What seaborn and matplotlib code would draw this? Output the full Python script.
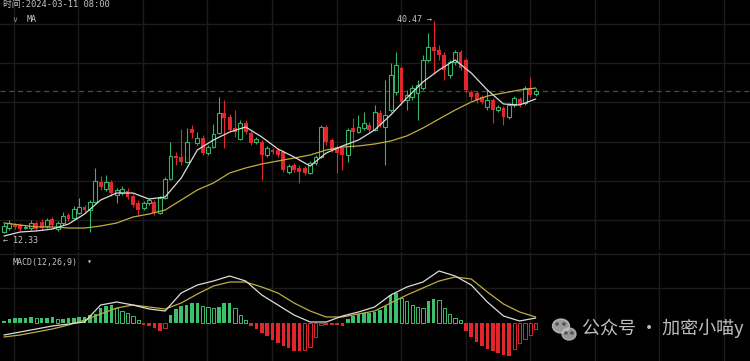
import numpy as np
import pandas as pd
import matplotlib
matplotlib.use('Agg')
import matplotlib.pyplot as plt
import seaborn as sns
from matplotlib.patches import Ellipse

# candles (price)
opens = [12.47, 13.00, 13.40, 13.40, 13.00, 13.00, 13.67, 13.80, 13.27, 14.20,
         12.87, 13.67, 14.73, 14.33, 15.00, 15.79, 15.39, 16.45, 19.11, 18.18,
         19.11, 17.38, 17.65, 17.91, 17.25, 16.32, 15.66, 16.32, 16.45, 15.00,
         16.99, 19.51, 22.56, 22.43, 21.76, 26.14, 24.28, 24.95, 22.96, 23.75,
         25.61, 28.26, 27.73, 26.27, 24.82, 26.94, 25.61, 24.42, 24.42, 22.69,
         23.36, 23.36, 23.09, 20.44, 21.36, 20.97, 20.97, 20.30, 21.63, 22.43,
         26.41, 24.68, 23.75, 23.62, 22.69, 26.27, 25.74, 26.27, 26.67, 26.01,
         28.26, 26.41, 28.66, 31.05, 34.24, 29.99, 30.39, 30.92, 31.58, 35.30,
         37.02, 36.63, 35.96, 33.31, 35.03, 36.36, 35.30, 31.05, 30.92, 30.39,
         29.06, 29.99, 28.66, 28.93, 27.73, 29.33, 30.12, 29.59, 31.58, 30.79]
closes = [13.27, 13.67, 13.14, 12.87, 13.14, 13.67, 12.87, 13.00, 14.07, 13.40,
          13.67, 14.60, 14.20, 15.53, 15.79, 15.39, 16.45, 19.24, 18.44, 19.11,
          17.65, 18.05, 18.18, 17.12, 16.06, 15.39, 16.32, 16.72, 15.00, 16.99,
          19.51, 22.56, 22.29, 21.76, 24.42, 25.61, 24.95, 22.96, 23.75, 25.48,
          28.26, 27.60, 26.01, 25.74, 26.94, 25.74, 24.28, 24.82, 22.69, 23.62,
          23.09, 22.69, 20.70, 21.23, 20.70, 20.44, 20.30, 21.63, 22.43, 26.41,
          24.42, 23.36, 22.96, 22.69, 26.01, 25.74, 26.41, 26.94, 26.01, 28.40,
          26.67, 28.00, 33.31, 34.63, 29.72, 30.65, 31.58, 31.98, 35.30, 37.02,
          36.49, 35.96, 33.97, 35.03, 36.36, 34.24, 31.32, 30.39, 29.99, 29.72,
          29.99, 28.66, 29.06, 27.73, 29.33, 30.26, 29.33, 31.58, 30.65, 31.25]
highs = [13.67, 14.07, 13.67, 13.67, 13.40, 14.07, 13.93, 14.20, 14.33, 14.46,
         13.93, 15.13, 15.00, 15.92, 16.99, 16.06, 16.72, 20.97, 19.90, 20.04,
         19.37, 18.31, 18.58, 18.31, 17.52, 16.72, 16.59, 16.99, 16.72, 17.25,
         19.77, 24.42, 23.09, 26.14, 26.27, 26.67, 25.74, 25.35, 24.02, 26.81,
         30.39, 29.99, 28.13, 28.66, 27.34, 27.34, 25.88, 25.08, 24.68, 23.89,
         23.62, 23.62, 23.36, 21.50, 21.63, 21.36, 21.23, 21.90, 22.69, 26.67,
         26.67, 24.95, 24.02, 23.89, 26.27, 27.60, 28.00, 28.40, 27.07, 29.33,
         28.66, 32.64, 34.90, 36.36, 34.50, 31.32, 31.98, 32.64, 35.96, 38.88,
         40.47, 37.29, 36.36, 35.30, 36.63, 36.63, 35.56, 31.32, 31.18, 30.65,
         31.32, 30.26, 29.33, 29.19, 29.59, 30.52, 30.39, 31.85, 33.04, 31.58]
lows = [12.33, 12.74, 12.87, 12.61, 12.87, 12.74, 12.61, 12.74, 13.00, 13.14,
        12.61, 13.40, 13.93, 14.20, 14.86, 15.13, 12.47, 16.32, 18.05, 17.91,
        17.25, 16.32, 17.38, 16.85, 15.79, 14.73, 15.39, 16.06, 14.73, 14.86,
        16.85, 19.37, 21.36, 21.36, 21.63, 24.95, 24.02, 22.69, 22.69, 23.62,
        25.48, 23.62, 25.74, 25.08, 24.68, 25.48, 24.02, 24.15, 19.37, 22.43,
        22.82, 22.43, 20.44, 20.17, 20.44, 18.98, 20.04, 20.17, 21.36, 22.29,
        24.02, 23.09, 20.30, 20.70, 21.76, 23.62, 25.61, 26.01, 25.74, 25.88,
        26.41, 21.36, 28.40, 30.65, 29.33, 28.66, 29.99, 27.34, 31.32, 35.03,
        33.57, 35.30, 32.64, 32.91, 34.63, 33.97, 31.05, 29.99, 29.59, 29.46,
        28.66, 26.94, 28.40, 26.67, 27.47, 29.06, 29.06, 29.33, 30.39, 30.52]

# indicator lines, read every 3rd candle
line_idx = list(range(0, 100, 3))
ma_fast = [11.94, 12.47, 12.61, 12.87, 13.53, 14.86, 16.72, 17.65, 17.65, 16.85,
           17.12, 19.64, 23.36, 24.68, 25.74, 26.41, 25.08, 23.49, 22.43, 21.23,
           22.96, 23.89, 24.68, 26.01, 28.00, 30.26, 32.38, 33.97, 35.30, 33.57,
           31.32, 29.46, 29.33, 30.12]
ma_slow = [13.67, 13.40, 13.14, 13.14, 13.00, 13.00, 13.27, 13.67, 14.46, 14.86,
           15.39, 16.72, 18.05, 18.98, 20.30, 20.97, 21.50, 21.90, 22.29, 22.69,
           23.36, 23.75, 23.89, 24.15, 24.55, 25.22, 26.27, 27.47, 28.66, 29.72,
           30.52, 30.92, 31.32, 31.58]
dif = [-0.60, -0.45, -0.30, -0.15, -0.05, 0.05, 0.90, 1.05, 0.90, 0.70,
       0.60, 1.50, 1.90, 2.10, 2.35, 2.10, 1.40, 0.90, 0.40, 0.05,
       0.05, 0.35, 0.55, 0.80, 1.40, 1.80, 2.05, 2.60, 2.35, 1.90,
       1.05, 0.35, 0.10, 0.25]
dea = [-0.70, -0.60, -0.45, -0.30, -0.10, 0.15, 0.45, 0.75, 0.90, 0.80,
       0.70, 1.00, 1.45, 1.85, 2.05, 2.05, 1.80, 1.50, 1.00, 0.60,
       0.30, 0.30, 0.45, 0.60, 1.00, 1.40, 1.75, 2.10, 2.30, 2.20,
       1.55, 0.95, 0.55, 0.30]
hist = [0.10, 0.20, 0.25, 0.25, 0.25, 0.30, 0.25, 0.25, 0.25, 0.30,
        0.20, 0.20, 0.25, 0.25, 0.30, 0.30, 0.40, 0.45, 0.75, 0.85,
        0.90, 0.75, 0.60, 0.50, 0.35, 0.15, -0.10, -0.15, -0.25, -0.40,
        -0.25, 0.40, 0.70, 0.85, 0.90, 1.00, 1.00, 0.85, 0.80, 0.75,
        0.80, 1.00, 1.00, 0.75, 0.40, 0.15, -0.15, -0.30, -0.50, -0.65,
        -0.85, -1.00, -1.15, -1.25, -1.40, -1.40, -1.35, -1.20, -0.70, -0.10,
        -0.10, -0.05, -0.10, -0.15, 0.20, 0.35, 0.45, 0.50, 0.50, 0.55,
        0.65, 0.85, 1.40, 1.50, 1.25, 1.10, 0.90, 0.80, 0.75, 1.10,
        1.20, 1.15, 0.75, 0.45, 0.25, 0.15, -0.40, -0.70, -0.95, -1.15,
        -1.30, -1.40, -1.50, -1.60, -1.65, -1.30, -1.00, -0.80, -0.60, -0.30]

GREEN = '#33b468'
RED = '#e3262b'
WHITE = '#dcdcdc'
YELLOW = '#bfae3e'
GRID = '#1c1c1c'
TXT = '#c4c4c4'

sns.set_theme(style='dark', rc={'axes.facecolor': 'black', 'figure.facecolor': 'black',
                                'grid.color': GRID, 'axes.edgecolor': 'black'})
plt.rcParams['font.family'] = ['DejaVu Sans Mono', 'DejaVu Sans', 'Noto Sans CJK SC']

df = pd.DataFrame({'open': opens, 'high': highs, 'low': lows, 'close': closes})
df['i'] = np.arange(len(df))
up = (df['close'] >= df['open']).values

fig = plt.figure(figsize=(7.5, 3.61), dpi=100)
ax = fig.add_axes([0, 111 / 361, 1, 250 / 361])
ax2 = fig.add_axes([0, 0, 1, 109 / 361])

xlim = (-0.745, 138.9)
vgrid = np.arange(1.86, 139, 12.01)

# main panel
ax.set_xlim(*xlim)
ax.set_ylim(10.085, 43.26)
ax.set_xticks(vgrid)
ax.set_yticks([40.07, 34.90, 29.72, 24.42, 19.24, 14.07])
ax.grid(True, color=GRID, lw=1.0)
ax.tick_params(length=0, labelbottom=False, labelleft=False)
for s in ax.spines.values():
    s.set_visible(False)

ax.axhline(closes[-1], color='#2e5c3c', lw=0.9, ls=(0, (4, 3)), zorder=1)

ax.vlines(df['i'], df['low'], df['high'], colors=np.where(up, GREEN, RED), lw=0.8, zorder=2)
body_lo = np.minimum(df['open'], df['close']).values
body_h = np.maximum((df['close'] - df['open']).abs().values, 0.13)
ax.bar(df['i'][up], body_h[up], bottom=body_lo[up], width=0.72,
       facecolor='black', edgecolor=GREEN, linewidth=0.8, zorder=3)
ax.bar(df['i'][~up], body_h[~up], bottom=body_lo[~up], width=0.72,
       color=RED, linewidth=0, zorder=3)

sns.lineplot(x=line_idx, y=ma_slow, ax=ax, color=YELLOW, lw=0.9, zorder=4)
sns.lineplot(x=line_idx, y=ma_fast, ax=ax, color=WHITE, lw=0.9, zorder=4)

hi = int(np.argmax(highs))
lo = int(np.argmin(lows))
ax.text(hi - 0.4, highs[hi] + 0.25, '40.47 →', color=TXT, fontsize=6, ha='right', va='center')
ax.text(lo - 0.2, lows[lo] - 0.95, '← 12.33', color=TXT, fontsize=6, ha='left', va='center')

# MACD panel
ax2.set_xlim(*xlim)
ax2.set_ylim(-1.9, 3.55)
ax2.set_xticks(vgrid)
ax2.set_yticks([3.45, 1.75])
ax2.grid(True, color=GRID, lw=1.0)
ax2.tick_params(length=0, labelbottom=False, labelleft=False)
for s in ax2.spines.values():
    s.set_visible(False)

h = np.array(hist)
prev = np.r_[0, h[:-1]]
shrink = (np.abs(h) < np.abs(prev)) & (np.sign(h) == np.sign(prev))
hcol = np.where(h >= 0, '#3cc06c', RED)
for filled in (True, False):
    m = ~shrink if filled else shrink
    idx = np.arange(len(h))[m]
    if filled:
        ax2.bar(idx, h[m], width=0.66, color=hcol[m], linewidth=0, zorder=2)
    else:
        ax2.bar(idx, h[m], width=0.62, facecolor='black', edgecolor=hcol[m], linewidth=0.7, zorder=2)

sns.lineplot(x=line_idx, y=dea, ax=ax2, color=YELLOW, lw=0.9, zorder=3)
sns.lineplot(x=line_idx, y=dif, ax=ax2, color=WHITE, lw=0.9, zorder=3)

# labels
fig.text(3 / 750, 1 - 5 / 361, '时间:2024-03-11 08:00', color=TXT, fontsize=6.3, va='center',
         family=['DejaVu Sans Mono', 'Noto Sans CJK SC'])
fig.text(12 / 750, 1 - 19 / 361, '∨', color='#8a8a8a', fontsize=6, va='center')
fig.text(27 / 750, 1 - 19 / 361, 'MA', color=TXT, fontsize=6, va='center')
fig.text(13 / 750, 1 - 262 / 361, 'MACD(12,26,9)', color=TXT, fontsize=6, va='center')
fig.text(86 / 750, 1 - 262 / 361, '▾', color=TXT, fontsize=6, va='center')

# watermark
ov = fig.add_axes([0, 0, 1, 1], facecolor='none')
ov.set_xlim(0, 750)
ov.set_ylim(361, 0)
ov.axis('off')
ov.add_patch(Ellipse((561, 326), 17, 14, color='#cfcfcf', alpha=0.75))
ov.add_patch(Ellipse((569, 334), 14, 12, color='#bdbdbd', alpha=0.8))
for ex, ey in [(557, 324), (564, 324), (566, 333), (572, 333)]:
    ov.add_patch(Ellipse((ex, ey), 2.2, 2.2, color='#555555'))
ov.text(582, 328, '公众号 · 加密小喵y', color='#e2e2e2', alpha=0.85, fontsize=13,
        va='center', ha='left', family=['Noto Sans CJK SC', 'DejaVu Sans'])

fig.savefig('out.png', dpi=100, facecolor='black')
